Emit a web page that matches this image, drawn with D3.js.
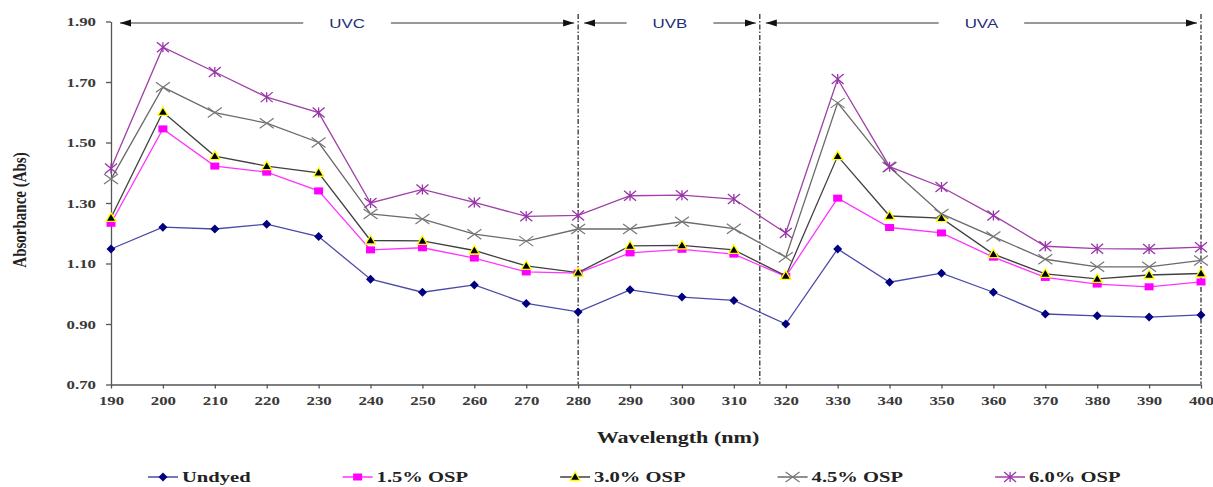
<!DOCTYPE html>
<html><head><meta charset="utf-8">
<script src="https://cdn.jsdelivr.net/npm/d3@7"></script>
<style>body{margin:0;background:#fff}svg{display:block}</style>
</head><body>
<svg id="c" width="1213" height="487"></svg>
<script>
const wavelengths = [190,200,210,220,230,240,250,260,270,280,290,300,310,320,330,340,350,360,370,380,390,400];
const undyed = [1.148,1.220,1.214,1.230,1.189,1.048,1.005,1.029,0.968,0.940,1.013,0.989,0.978,0.900,1.148,1.038,1.068,1.005,0.933,0.927,0.923,0.930];
const osp15 = [1.233,1.545,1.422,1.402,1.340,1.145,1.152,1.118,1.072,1.068,1.135,1.147,1.131,1.057,1.316,1.219,1.201,1.121,1.054,1.032,1.023,1.039];
const osp30 = [1.251,1.601,1.455,1.422,1.400,1.176,1.175,1.143,1.092,1.070,1.158,1.160,1.145,1.059,1.455,1.257,1.250,1.131,1.066,1.049,1.062,1.067];
const osp45 = [1.379,1.683,1.599,1.564,1.500,1.264,1.247,1.197,1.174,1.214,1.214,1.238,1.215,1.121,1.631,1.418,1.264,1.189,1.114,1.089,1.089,1.110];
const osp60 = [1.414,1.815,1.733,1.650,1.599,1.300,1.345,1.302,1.256,1.259,1.324,1.326,1.313,1.201,1.710,1.420,1.353,1.259,1.157,1.149,1.148,1.154];
const seriesNames = ["Undyed","1.5% OSP","3.0% OSP","4.5% OSP","6.0% OSP"];
const yTicks = [0.70,0.90,1.10,1.30,1.50,1.70,1.90];
const bands = [{name:"UVC",from:190,to:280},{name:"UVB",from:280,to:315},{name:"UVA",from:315,to:400}];
const dividers = [280,315,400];

const svg = d3.select("#c");
const x = d3.scaleLinear().domain([190,400]).range([111,1201]);
const y = d3.scaleLinear().domain([0.70,1.90]).range([384.5,21.5]);
const serif = "'Liberation Serif','Times New Roman',serif";

// widen text horizontally by factor f; returns the new width of the last element
function stretch(sel, f){
  let w = 0;
  sel.each(function(){
    const L = this.getComputedTextLength();
    w = L*f;
    d3.select(this).attr("textLength", w).attr("lengthAdjust","spacingAndGlyphs");
  });
  return w;
}

const styles = [
  {line:"#4a4aa8", fill:"#000080", stroke:"#000080", sym:"diamond"},
  {line:"#ff33ff", fill:"#ff00ff", stroke:"#ff00ff", sym:"square"},
  {line:"#404040", fill:"#000000", stroke:"#ffff00", sym:"triangle"},
  {line:"#6a6a6a", fill:"none", stroke:"#777777", sym:"x"},
  {line:"#a040a8", fill:"none", stroke:"#9933aa", sym:"star"}
];
const data = [undyed, osp15, osp30, osp45, osp60];

// Axes
const yAxis = d3.axisLeft(y).tickValues(yTicks).tickFormat(d3.format(".2f")).tickSize(5).tickSizeOuter(0);
const gy = svg.append("g").attr("transform","translate(111,0)").call(yAxis);
const xAxis = d3.axisBottom(x).tickValues(wavelengths).tickFormat(d3.format("d")).tickSize(4).tickSizeOuter(0);
const gx = svg.append("g").attr("transform","translate(0,384.5)").call(xAxis);
[gx,gy].forEach(g=>{
  g.select(".domain").attr("stroke","#555").attr("stroke-width",1.3);
  g.selectAll(".tick line").attr("stroke","#555").attr("stroke-width",1.3);
  g.selectAll(".tick text").attr("fill","#3a3a3a").style("font-family",serif).style("font-weight","bold").style("font-size","12px");
});
gy.selectAll(".tick text").attr("x",-15).attr("dy","0.35em");
gx.selectAll(".tick text").attr("y",12).attr("dy","0.71em");
stretch(gy.selectAll(".tick text"),1.4);
stretch(gx.selectAll(".tick text"),1.4);

// Divider lines
svg.append("g").selectAll("line").data(dividers).join("line")
  .attr("x1",d=>x(d)).attr("x2",d=>x(d)).attr("y1",14).attr("y2",384)
  .attr("stroke","#222").attr("stroke-width",1.2).attr("stroke-dasharray","5,2,1.5,2");

// Arrow marker (points along line direction)
const defs = svg.append("defs");
defs.append("marker").attr("id","ar").attr("viewBox","0 0 10 10").attr("refX",10).attr("refY",5)
  .attr("markerWidth",11).attr("markerHeight",9).attr("markerUnits","userSpaceOnUse").attr("orient","auto")
  .attr("preserveAspectRatio","none")
  .append("path").attr("d","M0,1 L10,5 L0,9 Z").attr("fill","#111");

const ya = 23;
bands.forEach((b,i)=>{
  const x0 = x(b.from) + (i===0 ? 9 : 6);
  const x1 = x(b.to) - 4;
  const cx = (x0+x1)/2;
  const t = svg.append("text").attr("x",cx).attr("y",ya).attr("dy","0.35em").attr("text-anchor","middle")
    .attr("fill","#1f2f7a").style("font-family","'Liberation Sans',Arial,sans-serif").style("font-size","13px").text(b.name);
  const w = stretch(t,1.3);
  const half = w/2 + 26;
  svg.append("line").attr("x1",cx-half).attr("x2",x0).attr("y1",ya).attr("y2",ya)
    .attr("stroke","#333").attr("stroke-width",1).attr("marker-end","url(#ar)");
  svg.append("line").attr("x1",cx+half).attr("x2",x1).attr("y1",ya).attr("y2",ya)
    .attr("stroke","#333").attr("stroke-width",1).attr("marker-end","url(#ar)");
});

function drawMarker(g, sym, st, cx, cy){
  if(sym==="diamond"){
    g.append("path").attr("d",`M${cx},${cy-4.5}L${cx+4.5},${cy}L${cx},${cy+4.5}L${cx-4.5},${cy}Z`).attr("fill",st.fill);
  } else if(sym==="square"){
    g.append("rect").attr("x",cx-4.5).attr("y",cy-3.5).attr("width",9).attr("height",7).attr("fill",st.fill);
  } else if(sym==="triangle"){
    g.append("path").attr("d",`M${cx},${cy-5}L${cx+5},${cy+3.5}L${cx-5},${cy+3.5}Z`).attr("fill",st.fill).attr("stroke",st.stroke).attr("stroke-width",1.3);
  } else if(sym==="x"){
    g.append("path").attr("d",`M${cx-7},${cy-5}L${cx+7},${cy+5}M${cx-7},${cy+5}L${cx+7},${cy-5}`).attr("stroke",st.stroke).attr("stroke-width",1.2);
  } else if(sym==="star"){
    g.append("path").attr("d",`M${cx-6},${cy-5}L${cx+6},${cy+5}M${cx-6},${cy+5}L${cx+6},${cy-5}M${cx},${cy-5}L${cx},${cy+5}`).attr("stroke",st.stroke).attr("stroke-width",1.3);
  }
}

const line = d3.line().x((d,i)=>x(wavelengths[i])).y(d=>y(d));
data.forEach((vals,si)=>{
  const st = styles[si];
  const g = svg.append("g");
  g.append("path").datum(vals).attr("d",line).attr("fill","none").attr("stroke",st.line).attr("stroke-width",1.3);
  vals.forEach((v,i)=>drawMarker(g, st.sym, st, x(wavelengths[i]), y(v)));
});

// Axis titles
const xt = svg.append("text").attr("x",678).attr("y",437).attr("dy","0.35em").attr("text-anchor","middle")
  .attr("fill","#222").style("font-family",serif).style("font-weight","bold").style("font-size","17px").text("Wavelength (nm)");
stretch(xt,1.3);
svg.append("text").attr("transform","translate(19,210) rotate(-90) scale(1,1.3)").attr("dy","0.35em").attr("text-anchor","middle")
  .attr("fill","#222").style("font-family",serif).style("font-weight","bold").style("font-size","15px").text("Absorbance (Abs)");

// Legend: entries laid out left to right with an equal gap between them
const lg = svg.append("g");
let lx = 148;
const ly = 477, gap = 92;
seriesNames.forEach((n,i)=>{
  const st = styles[i];
  lg.append("line").attr("x1",lx).attr("x2",lx+30).attr("y1",ly).attr("y2",ly).attr("stroke",st.line).attr("stroke-width",1.5);
  drawMarker(lg, st.sym, st, lx+15, ly);
  const t = lg.append("text").attr("x",lx+34).attr("y",ly).attr("dy","0.35em").attr("fill","#222")
    .style("font-family",serif).style("font-weight","bold").style("font-size","14px").text(n);
  const w = stretch(t,1.47);
  lx += 34 + w + gap;
});
</script>
</body></html>
